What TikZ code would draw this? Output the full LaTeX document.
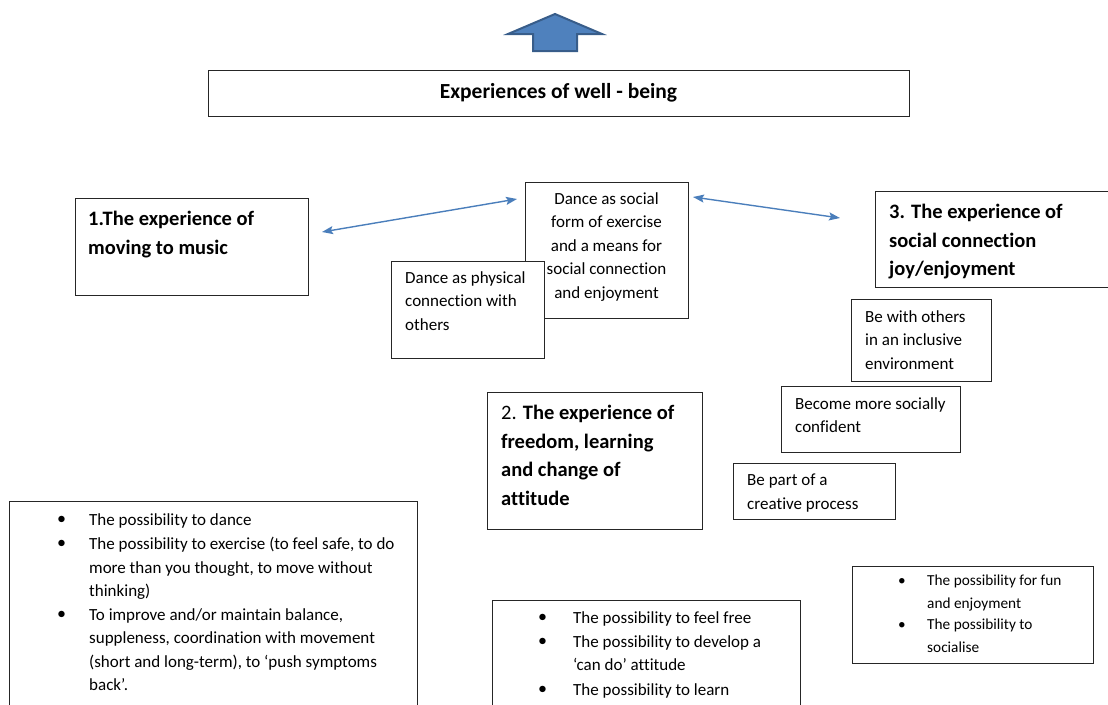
\documentclass[tikz,border=0pt]{standalone}
\usepackage{fontspec}
\setmainfont{Carlito}[Ligatures={NoCommon}]
\usetikzlibrary{arrows.meta}
\definecolor{arrowblue}{HTML}{4A7EBB}
\definecolor{shapefill}{HTML}{4F81BD}
\definecolor{shapeedge}{HTML}{385D8A}
\tikzset{
  box/.style={draw=black!85, line width=0.9pt, fill=white, inner sep=0pt, outer sep=0pt, anchor=north west},
  txt/.style={inner sep=0pt, anchor=north west, align=left, font=\fontsize{17}{23.6}\selectfont},
  head/.style={inner sep=0pt, anchor=north west, align=left, font=\fontsize{20.5}{28.7}\selectfont\bfseries},
  blink/.style={arrowblue, line width=1.4pt, {Stealth[length=11pt,width=8pt,inset=2pt]}-{Stealth[length=11pt,width=8pt,inset=2pt]}},
  bul/.style={inner sep=0pt, anchor=north west, font=\fontsize{18}{23.6}\selectfont},
  small/.style={font=\fontsize{15.3}{22.3}\selectfont}
}
\begin{document}
\begin{tikzpicture}[x=1pt,y=-1pt]
\useasboundingbox (0,0) rectangle (1108,704);
% up arrow
\draw[fill=shapefill, draw=shapeedge, line width=2pt, line join=miter]
  (555,14) -- (602,34) -- (577,34) -- (577,51) -- (533,51) -- (533,34) -- (508,34) -- cycle;
% title
\node[box, minimum width=701pt, minimum height=46pt] (title) at (208,70) {};
\node[font=\fontsize{21.5}{24}\selectfont\bfseries, inner sep=0pt] (titletxt) at (title.center) {Experiences of well - being};
% box 1
\node[box, minimum width=233pt, minimum height=97pt] (b1) at (75,198) {};
\node[head] (b1t) at (88,211) {1.The experience of\\moving to music};
% central box
\node[box, minimum width=163pt, minimum height=136pt] (bc) at (525,182) {};
\node[txt, anchor=north, align=center] (bct) at (606.5,192) {Dance as social\\form of exercise\\and a means for\\social connection\\and enjoyment};
% physical box (on top)
\node[box, minimum width=153pt, minimum height=97pt] (bp) at (391,261) {};
\node[txt] (bpt) at (405,271) {Dance as physical\\connection with\\others};
% box 3
\node[box, minimum width=233pt, minimum height=96pt] (b3) at (875,191) {};
\node[head] (b3t) at (889,204) {3. The experience of\\social connection\\joy/enjoyment};
% connectors
\coordinate (a1) at (322,232);
\coordinate (a2) at (517,199);
\coordinate (a3) at (693,197);
\coordinate (a4) at (840,218);
\draw[blink] (a1) -- (a2);
\draw[blink] (a3) -- (a4);
% small boxes
\node[box, minimum width=140pt, minimum height=82pt] (bw) at (851,299) {};
\node[txt] (bwt) at (865,310) {Be with others\\in an inclusive\\environment};
\node[box, minimum width=179pt, minimum height=66pt] (bs) at (781,386) {};
\node[txt] (bst) at (795,397) {Become more socially\\confident};
\node[box, minimum width=162pt, minimum height=56pt] (bk) at (733,463) {};
\node[txt] (bkt) at (747,474) {Be part of a\\creative process};
% box 2
\node[box, minimum width=215pt, minimum height=137pt] (b2) at (487,392) {};
\node[head] (b2t) at (501,405) {{\mdseries 2.} The experience of\\freedom, learning\\and change of\\attitude};
% bottom left list
\node[box, minimum width=408pt, minimum height=215pt] (ll) at (9,501) {};
\node[bul] (ll1b) at (57,516) {•};
\node[txt] (ll1) at (89,513) {The possibility to dance};
\node[bul] (ll2b) at (57,540) {•};
\node[txt] (ll2) at (89,537) {The possibility to exercise (to feel safe, to do\\more than you thought, to move without\\thinking)};
\node[bul] (ll3b) at (57,611) {•};
\node[txt] (ll3) at (89,608) {To improve and/or maintain balance,\\suppleness, coordination with movement\\(short and long-term), to ‘push symptoms\\back’.};
% bottom middle list
\node[box, minimum width=308pt, minimum height=115pt] (lm) at (492,600) {};
\node[bul] (lm1b) at (538,614) {•};
\node[txt] (lm1) at (573,611) {The possibility to feel free};
\node[bul] (lm2b) at (538,638) {•};
\node[txt] (lm2) at (573,635) {The possibility to develop a\\‘can do’ attitude};
\node[bul] (lm3b) at (538,686) {•};
\node[txt] (lm3) at (573,683) {The possibility to learn};
% bottom right list
\node[box, minimum width=241pt, minimum height=97pt] (lr) at (852,566) {};
\node[bul, small] (lr1b) at (898,578) {•};
\node[txt, small] (lr1) at (927,575) {The possibility for fun\\and enjoyment};
\node[bul, small] (lr2b) at (898,622) {•};
\node[txt, small] (lr2) at (927,619) {The possibility to\\socialise};
\end{tikzpicture}
\end{document}
